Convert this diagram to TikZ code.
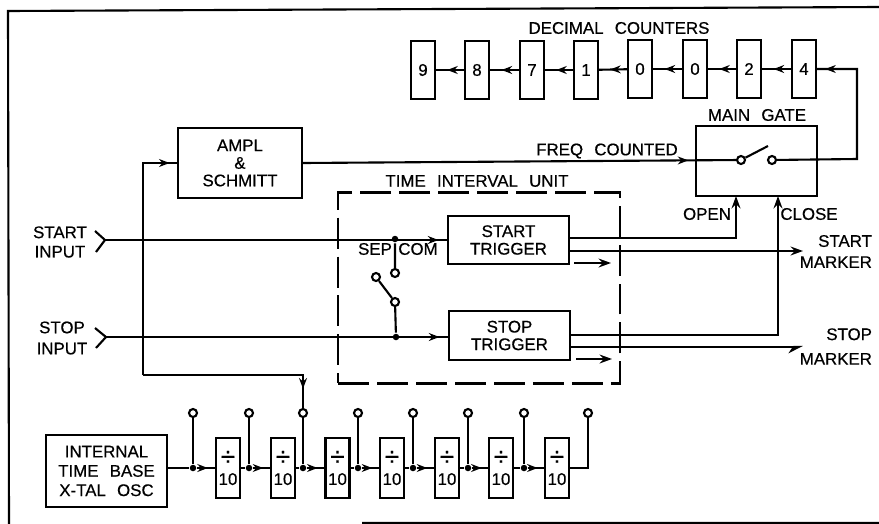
\documentclass[tikz,border=0pt]{standalone}
\usepackage{fontspec}
\setmainfont[WordSpace=2.4,FakeBold=0.5]{Liberation Sans}
\usetikzlibrary{arrows.meta, decorations.markings}

\begin{document}
\begin{tikzpicture}[
  x=0.02cm, y=-0.02cm, line width=1.2pt,
  every node/.style={font=\fontsize{9.6}{10}\selectfont, align=center, inner sep=0pt},
  box/.style={draw, rectangle},
  ctr/.style={box, minimum width=0.47cm, minimum height=1.16cm},
  divbox/.style={box, minimum width=0.48cm, minimum height=1.2cm},
  term/.style={draw, circle, minimum size=0.16cm},
  dot/.style={fill, circle, minimum size=0.13cm},
  flow/.style={postaction={decorate, decoration={markings,
    mark=at position #1 with {\arrow{Stealth[length=6pt,width=4.5pt]}}}}},
  tip/.style={-{Stealth[length=7pt,width=5pt]}}
]
  \useasboundingbox (0,0) rectangle (879,524);
  \draw (879,7)--(8,11)--(9,524) (362,523)--(879,523);

  % counters
  \node (ctitle) at (619,28) {DECIMAL COUNTERS};
  \node[ctr] (c9) at (423,70) {9};
  \node[ctr] (c8) at (477,70) {8};
  \node[ctr] (c7) at (532,70) {7};
  \node[ctr] (c1) at (586,70) {1};
  \node[ctr] (c0a) at (640,69) {0};
  \node[ctr] (c0b) at (695,69) {0};
  \node[ctr] (c2) at (749,69) {2};
  \node[ctr] (c4) at (804,69) {4};
  \draw[flow=.6] (c8)--(c9);
  \draw[flow=.6] (c7)--(c8);
  \draw[flow=.6] (c1)--(c7);
  \draw[flow=.6] (c0a)--(c1);
  \draw[flow=.6] (c0b)--(c0a);
  \draw[flow=.6] (c2)--(c0b);
  \draw[flow=.6] (c4)--(c2);

  % gate
  \node (gtitle) at (757,115) {MAIN GATE};
  \node[box, minimum width=2.42cm, minimum height=1.4cm] (gate) at (756.5,161) {};
  \node[term] (sw1) at (741,160) {};
  \node[term] (sw2) at (772,160) {};
  \coordinate (blade) at (768,146);
  \coordinate (rt) at (857,159);
  \draw (sw1)--(blade);
  \draw[flow=.96] (sw2)--(rt)|-(c4.east);

  % ampl
  \node[box, minimum width=2.48cm, minimum height=1.4cm] (ampl) at (240,163) {AMPL\\\&\\SCHMITT};
  \node (freq) at (607,151) {FREQ COUNTED};
  \draw[flow=.89] (ampl.east)--(sw1);

  % interval unit
  \node (ttitle) at (477,181) {TIME INTERVAL UNIT};
  \node[draw, dash pattern=on 0.62cm off 0.16cm, minimum width=5.64cm, minimum height=3.82cm] (tiu) at (479,288) {};
  \node[box, minimum width=2.42cm, minimum height=0.96cm] (start) at (508.5,240) {START\\TRIGGER};
  \node[box, minimum width=2.42cm, minimum height=0.98cm] (stop) at (509.5,335.5) {STOP\\TRIGGER};
  \node (sep) at (375,249) {SEP};
  \node (com) at (418,249) {COM};
  \node[dot] (j1) at (395,239) {};
  \node[dot] (j2) at (396,337) {};
  \node[term] (s1) at (395,273) {};
  \node[term] (s2) at (376,277) {};
  \node[term] (s3) at (395,302) {};
  \draw (j1)--(s1) (s2)--(s3) (s3)--(j2);

  % inputs
  \node (startin) at (60,242) {START\\[1pt]INPUT};
  \node (stopin) at (62,338) {STOP\\[2pt]INPUT};
  \coordinate (in1) at (105,240);
  \coordinate (in2) at (106,337);
  \draw ([shift={(-10,-9)}]in1)--(in1)--([shift={(-9,12)}]in1);
  \draw ([shift={(-11,-9)}]in2)--(in2)--([shift={(-10,11)}]in2);
  \draw[flow=.975] (in1)--(in1-|start.west);
  \draw[flow=.975] (in2)--(in2-|stop.west);

  % outputs
  \coordinate (o1) at (569,238);
  \coordinate (o2) at (569,251);
  \coordinate (o3) at (570,335);
  \coordinate (o4) at (570,347);
  \coordinate (gopen) at (736,196);
  \coordinate (gclose) at (778,196);
  \coordinate (mk1) at (803,251);
  \coordinate (mk2) at (803,347);
  \draw[tip] (o1)-|(gopen);
  \draw[tip] (o3)-|(gclose);
  \draw[tip] (o2)--(mk1);
  \draw[-{Stealth[length=7pt,width=7pt,harpoon,swap]}] (o4)--(mk2);
  \node (open) at (707,214) {OPEN};
  \node (close) at (809,214) {CLOSE};
  \node[anchor=east, align=right] (startm) at (873,251.5) {START\\[2pt]MARKER};
  \node[anchor=east, align=right] (stopm) at (873,346.5) {STOP\\[4pt]MARKER};
  \coordinate (a1) at (574,263);
  \coordinate (a2) at (611,263);
  \coordinate (a3) at (576,359);
  \coordinate (a4) at (612,359);
  \draw[tip] (a1)--(a2);
  \draw[tip] (a3)--(a4);

  % time base
  \node[box, minimum width=2.42cm, minimum height=1.44cm] (osc) at (106.5,471) {INTERNAL\\[1pt]TIME BASE\\[1pt]X-TAL OSC};
  \foreach \i/\x in {1/228,2/283,3/337.5,4/392,5/447,6/501,7/557}
    \node[divbox] (d\i) at (\x,468) {{\fontsize{15}{15}\selectfont ÷}\\[1pt]10};
  \foreach \i/\x in {1/193,2/249,3/303,4/358,5/413,6/468,7/524}{
    \node[term] (t\i) at (\x,413) {};
    \node[dot] (j\i) at (\x,468) {};
    \draw (j\i)--(t\i);
    \draw[flow=.6] (j\i)--(d\i);
  }
  \node[term] (t8) at (588,413) {};
  \draw (osc.east|-j1)--(j1);
  \foreach \i/\n in {1/2,2/3,3/4,4/5,5/6,6/7}
    \draw (d\i)--(j\n);
  \draw (d7.east)-|(t8);

  % ampl feed
  \coordinate (bn) at (143,375);
  \draw[flow=.97] (bn)|-(ampl.west);
  \draw[flow=.9] (bn)-|(t3);
\end{tikzpicture}
\end{document}
